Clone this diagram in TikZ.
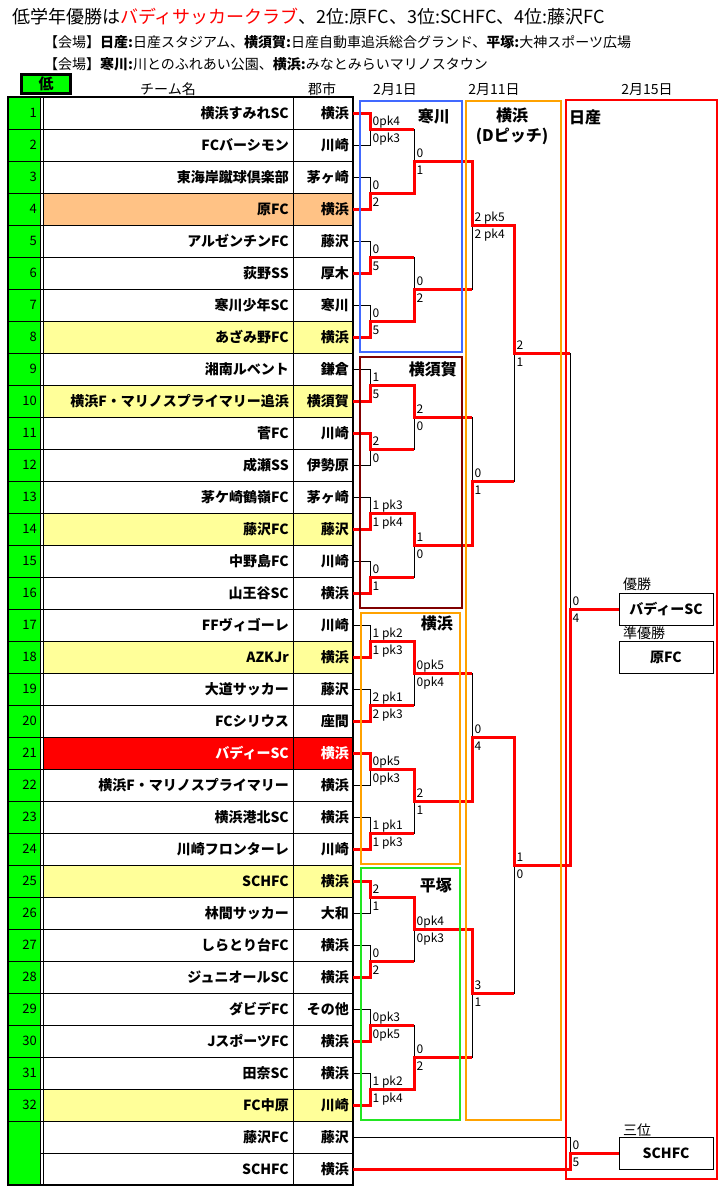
\documentclass[tikz,border=0pt]{standalone}
\usepackage{fontspec}
\setmainfont{Noto Sans CJK JP}
\definecolor{cgreen}{HTML}{00FF00}
\definecolor{cyellow}{HTML}{FFFF99}
\definecolor{corange}{HTML}{FFC285}
\definecolor{cblue}{HTML}{4169FF}
\definecolor{cmaroon}{HTML}{800000}
\definecolor{cboxorange}{HTML}{FFA200}
\definecolor{cboxgreen}{HTML}{22E622}
\newcommand\fs[1]{\fontsize{#1}{#1}\selectfont}
\newcommand\allgames{%
 % round 1
 \game{a1}{353}{370}{414}{113}{145}{113}{0pk4}{0pk3}%
 \game{a2}{353}{370}{414}{177}{209}{209}{0}{2}%
 \game{a3}{353}{370}{414}{241}{273}{273}{0}{5}%
 \game{a4}{353}{370}{414}{305}{337}{337}{0}{5}%
 \game{a5}{353}{370}{414}{369}{401}{401}{1}{5}%
 \game{a6}{353}{370}{414}{433}{465}{433}{2}{0}%
 \game{a7}{353}{370}{414}{497}{529}{529}{1 pk3}{1 pk4}%
 \game{a8}{353}{370}{414}{561}{593}{593}{0}{1}%
 \game{a9}{353}{370}{414}{625}{657}{657}{1 pk2}{1 pk3}%
 \game{a10}{353}{370}{414}{689}{721}{721}{2 pk1}{2 pk3}%
 \game{a11}{353}{370}{414}{753}{785}{753}{0pk5}{0pk3}%
 \game{a12}{353}{370}{414}{817}{849}{849}{1 pk1}{1 pk3}%
 \game{a13}{353}{370}{414}{881}{913}{881}{2}{1}%
 \game{a14}{353}{370}{414}{945}{977}{977}{0}{2}%
 \game{a15}{353}{370}{414}{1009}{1041}{1041}{0pk3}{0pk5}%
 \game{a16}{353}{370}{414}{1073}{1105}{1105}{1 pk2}{1 pk4}%
 % round 2
 \game{b1}{370}{414}{472}{129}{193}{193}{0}{1}%
 \game{b2}{370}{414}{472}{257}{321}{321}{0}{2}%
 \game{b3}{370}{414}{472}{385}{449}{385}{2}{0}%
 \game{b4}{370}{414}{472}{513}{577}{513}{1}{0}%
 \game{b5}{370}{414}{472}{641}{705}{641}{0pk5}{0pk4}%
 \game{b6}{370}{414}{472}{769}{833}{769}{2}{1}%
 \game{b7}{370}{414}{472}{897}{961}{897}{0pk4}{0pk3}%
 \game{b8}{370}{414}{472}{1025}{1089}{1089}{0}{2}%
 % round 3
 \game{c1}{414}{472}{514}{161}{289}{161}{2 pk5}{2 pk4}%
 \game{c2}{414}{472}{514}{417}{545}{545}{0}{1}%
 \game{c3}{414}{472}{514}{673}{801}{801}{0}{4}%
 \game{c4}{414}{472}{514}{929}{1057}{929}{3}{1}%
 % semi finals
 \game{d1}{472}{514}{570}{225}{481}{225}{2}{1}%
 \game{d2}{472}{514}{570}{737}{993}{737}{1}{0}%
 % final and third place
 \game{f1}{514}{570}{619}{353}{865}{865}{0}{4}%
 \game{t1}{353}{570}{619}{1137}{1169}{1169}{0}{5}%
}
\begin{document}
\begin{tikzpicture}[x=1pt,y=-1pt,
 thinl/.style={black, line width=1pt},
 winl/.style={red, line width=3pt, line join=miter},
 sc/.style={inner sep=0pt, font=\fs{12}, anchor=base west},
 tname/.style={inner sep=0pt, font=\bfseries\fs{14}, anchor=base east},
 num/.style={inner sep=0pt, font=\fs{13}, anchor=base east},
 venue/.style={line width=2pt},
 vlabel/.style={inner sep=0pt, font=\bfseries\fs{16}},
 hdr/.style={inner sep=0pt, font=\fs{14}, anchor=base},
 reslabel/.style={inner sep=0pt, font=\fs{14}, anchor=base west},
 resbox/.style={draw=black, line width=1pt, fill=white, minimum width=94pt, minimum height=32pt, inner sep=0pt, font=\bfseries\fs{14}},
 grid/.style={black, line width=1pt}]
\useasboundingbox (0,0) rectangle (722,1189);
\fill[white] (0,0) rectangle (722,1189);

% title lines
\node[inner sep=0pt, anchor=base west, font=\fs{18}] (title) at (12,23)
 {低学年優勝は\textcolor{red}{バディサッカークラブ}、2位:原FC、3位:SCHFC、4位:藤沢FC};
\node[inner sep=0pt, anchor=base west, font=\fs{14}] (venue1) at (44,47)
 {【会場】\textbf{日産:}日産スタジアム、\textbf{横須賀:}日産自動車追浜総合グランド、\textbf{平塚:}大神スポーツ広場};
\node[inner sep=0pt, anchor=base west, font=\fs{14}] (venue2) at (44,69)
 {【会場】\textbf{寒川:}川とのふれあい公園、\textbf{横浜:}みなとみらいマリノスタウン};

% header
\draw[black, line width=3pt, fill=cgreen] (21.5,74.5) rectangle (70.5,93.5);
\node[inner sep=0pt, font=\bfseries\fs{15}, anchor=base] (low) at (46,89.5) {低};
\node[hdr] (hname) at (168,94) {チーム名};
\node[hdr] (hcity) at (322,94) {郡市};
\node[hdr] (hd1) at (395,94) {2月1日};
\node[hdr] (hd2) at (494,94) {2月11日};
\node[hdr] (hd3) at (647,94) {2月15日};

% table fills
\fill[cgreen] (8,97) rectangle (40,1185);
\foreach \k/\nm/\ct/\bg/\tc in {
 1/横浜すみれSC/横浜/white/black,
 2/FCバーシモン/川崎/white/black,
 3/東海岸蹴球倶楽部/茅ヶ崎/white/black,
 4/原FC/横浜/corange/black,
 5/アルゼンチンFC/藤沢/white/black,
 6/荻野SS/厚木/white/black,
 7/寒川少年SC/寒川/white/black,
 8/あざみ野FC/横浜/cyellow/black,
 9/湘南ルベント/鎌倉/white/black,
 10/横浜F・マリノスプライマリー追浜/横須賀/cyellow/black,
 11/菅FC/川崎/white/black,
 12/成瀬SS/伊勢原/white/black,
 13/茅ケ崎鶴嶺FC/茅ヶ崎/white/black,
 14/藤沢FC/藤沢/cyellow/black,
 15/中野島FC/川崎/white/black,
 16/山王谷SC/横浜/white/black,
 17/FFヴィゴーレ/川崎/white/black,
 18/AZKJr/横浜/cyellow/black,
 19/大道サッカー/藤沢/white/black,
 20/FCシリウス/座間/white/black,
 21/バディーSC/横浜/red/white,
 22/横浜F・マリノスプライマリー/横浜/white/black,
 23/横浜港北SC/横浜/white/black,
 24/川崎フロンターレ/川崎/white/black,
 25/SCHFC/横浜/cyellow/black,
 26/林間サッカー/大和/white/black,
 27/しらとり台FC/横浜/white/black,
 28/ジュニオールSC/横浜/white/black,
 29/ダビデFC/その他/white/black,
 30/JスポーツFC/横浜/white/black,
 31/田奈SC/横浜/white/black,
 32/FC中原/川崎/cyellow/black,
 33/藤沢FC/藤沢/white/black,
 34/SCHFC/横浜/white/black}{
 \pgfmathsetmacro\yt{97+32*(\k-1)}
 \pgfmathsetmacro\yb{\yt+32}
 \pgfmathsetmacro\yc{\yt+21}
 \fill[\bg] (43,\yt) rectangle (353,\yb);
 \node[tname, text=\tc] (n\k) at (289,\yc) {\nm};
 \node[tname, text=\tc] (c\k) at (349,\yc) {\ct};
}
\foreach \k in {1,...,32}{
 \pgfmathsetmacro\yc{97+32*(\k-1)+20.5}
 \node[num] (k\k) at (37,\yc) {\k};
}
\node[inner sep=0pt, font=\fs{13}] (th1) at (24,1148) {三};
\node[inner sep=0pt, font=\fs{13}] (th2) at (24,1163) {決};
\node[inner sep=0pt, font=\fs{13}] (th3) at (24,1178) {戦};

% grid
\foreach \k in {0,...,33}{
 \pgfmathsetmacro\yy{97+32*\k}
 \draw[grid] (8,\yy) -- (353,\yy);
}
\draw[grid] (43,1153) -- (353,1153);
\fill[cgreen] (8.5,1122) rectangle (39.5,1184);
\draw[grid] (40,97) -- (40,1185);
\draw[grid] (43,97) -- (43,1185);
\draw[grid] (293,97) -- (293,1185);
\draw[black, line width=1.5pt] (8,97) rectangle (353,1185);

% bracket: black lines
\def\game#1#2#3#4#5#6#7#8#9{%
 \draw[thinl] (#2,#5) -- (#3,#5) -- (#3,#6) -- (#2,#6);}
\allgames
% bracket: winners in red
\def\game#1#2#3#4#5#6#7#8#9{%
 \pgfmathsetmacro\ym{(#5+#6)/2}%
 \draw[winl] (#2,#7) -- (#3,#7) -- (#3,\ym) -- (#4,\ym);}
\allgames
% bracket: scores
\def\game#1#2#3#4#5#6#7#8#9{%
 \pgfmathsetmacro\ya{(#5+#6)/2-3.5}%
 \pgfmathsetmacro\yz{(#5+#6)/2+13.5}%
 \pgfmathsetmacro\xl{#3+2.5}%
 \node[sc] (s#1a) at (\xl,\ya) {#8};%
 \node[sc] (s#1b) at (\xl,\yz) {#9};}
\allgames

% venue boxes
\draw[cblue, venue] (360,101) rectangle (462,352);
\draw[cmaroon, venue] (360,357) rectangle (462,608);
\draw[cboxorange, venue] (361,613) rectangle (460,864);
\draw[cboxgreen, venue] (361,868) rectangle (460,1120);
\draw[cboxorange, venue] (466,101) rectangle (561,1120);
\draw[red, venue] (566,100) rectangle (717,1179);
\node[vlabel, anchor=base east] (vs) at (450,122) {寒川};
\node[vlabel, anchor=base east] (vy) at (457,375) {横須賀};
\node[vlabel, anchor=base east] (vh) at (453,629) {横浜};
\node[vlabel, anchor=base east] (vt) at (452,891) {平塚};
\node[vlabel, anchor=base] (vd1) at (512,121) {横浜};
\node[vlabel, anchor=base] (vd2) at (512,141) {(Dピッチ)};
\node[vlabel, anchor=base west] (vn) at (569,123) {日産};

% results
\node[reslabel] (l1) at (623,589) {優勝};
\node[resbox] (r1) at (666,609) {バディーSC};
\node[reslabel] (l2) at (623,638) {準優勝};
\node[resbox] (r2) at (666,657) {原FC};
\node[reslabel] (l3) at (623,1135) {三位};
\node[resbox] (r3) at (666,1153) {SCHFC};
\end{tikzpicture}
\end{document}
